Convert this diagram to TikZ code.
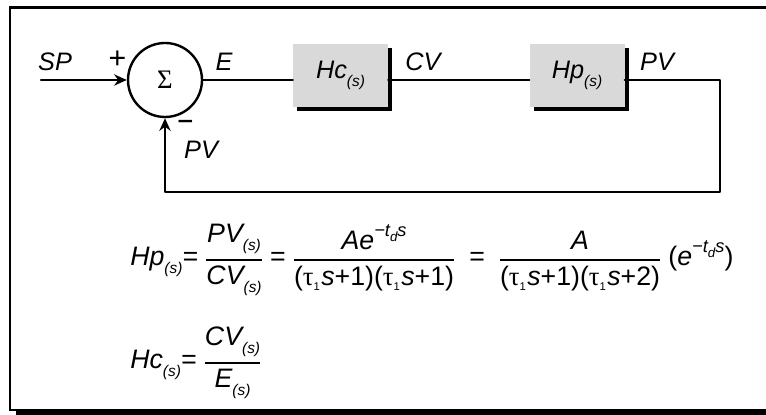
\documentclass[tikz,border=0pt]{standalone}
\usepackage{amsmath}
\usepackage{fontspec}
\setmainfont{Liberation Sans}
\newfontfamily\serifgr{Liberation Serif}
\usetikzlibrary{positioning,shadows,arrows.meta}

% chỉ số (s), tau_1, e^{-t_d s} và phân số
\newcommand{\chiso}{\raisebox{-5.5pt}{\fontsize{11}{11}\selectfont\itshape(s)}}
\newcommand{\tauone}{{\serifgr\upshape τ}\raisebox{-3.5pt}{\fontsize{8}{8}\selectfont 1}\kern1pt}
\newcommand{\mudelay}{\textit{e}\raisebox{9.5pt}{\fontsize{13}{13}\selectfont\itshape −t\raisebox{-3.5pt}{\fontsize{9.5}{9.5}\selectfont d}s}}
\newcommand{\phanso}[2]{\genfrac{}{}{1.3pt}{0}{\mbox{#1}}{\mbox{#2}}}

\begin{document}
\begin{tikzpicture}[
	line join=round,
	line cap=round,
	>={Stealth[length=9pt,width=8pt]},
	font=\fontsize{18}{21}\selectfont,
	blok/.style={fill=black!15, minimum width=2.375cm, minimum height=1.575cm,
		font=\fontsize{18}{21}\selectfont\itshape,
		drop shadow={shadow xshift=0.1cm, shadow yshift=-0.1cm, fill=black, opacity=1}},
	nhan/.style={inner sep=0pt, font=\fontsize{18}{21}\selectfont\itshape},
	noi/.style={line width=1.7pt}
	]
	
	\useasboundingbox (0,0) rectangle (19.15,10.375);
	
	% Khung và bóng
	\fill[black] (0.4,0) rectangle (19.15,0.125);
	\draw[line width=1.5pt, line cap=butt, line join=miter]
		(19.15,10.1875) -- (0.25,10.1875) -- (0.25,0.125) -- (19.15,0.125);
	
	% Bộ cộng và các khối
	\node[circle, draw, noi, minimum size=1.85cm, inner sep=0pt] (tong) at (4.125,8.375)
		{\serifgr\fontsize{19}{19}\selectfont Σ};
	\node[blok] (hc) at (8.5125,8.4875) {Hc\chiso};
	\node[blok] (hp) at (14.425,8.4875) {Hp\chiso};
	
	% Điểm đầu và góc vòng hồi tiếp
	\coordinate (vao) at (1.025,8.375);
	\coordinate (goc) at (18,5.575);
	
	% Đường nối
	\draw[noi, ->] (vao) -- (tong.west);
	\draw[noi] (tong.east) -- (tong.east -| hc.west);
	\draw[noi] (tong.east -| hc.east) -- (tong.east -| hp.west);
	\draw[noi, ->] (tong.east -| hp.east) -| (goc) -| (tong.south);
	
	% Nhãn tín hiệu
	\node[nhan] (sp) at (1.375,8.825) {SP};
	\node[nhan] (cong) at (2.925,8.875) {\scalebox{1.2}{+}};
	\node[nhan] (e) at (5.6,8.825) {E};
	\node[nhan] (cv) at (10.575,8.825) {CV};
	\node[nhan] (pv) at (16.425,8.825) {PV};
	\node[nhan] (tru) at (4.625,7.225) {\scalebox{1.1}[1.3]{−}};
	\node[nhan] (pvb) at (5.025,6.625) {PV};
	
	% Hàm truyền
	\node[anchor=base west, inner sep=0pt, font=\fontsize{19}{22}\selectfont] (pthp) at (3.25,3.725)
		{$\mbox{\itshape Hp\chiso=}\;\phanso{\itshape PV\chiso}{\itshape CV\chiso}\;\mbox{=}\;
		\phanso{\itshape A\mudelay}{(\tauone\textit{s}+1)(\tauone\textit{s}+1)}\;\;\mbox{=}\;\;
		\phanso{\itshape A}{(\tauone\textit{s}+1)(\tauone\textit{s}+2)}\;\mbox{(\mudelay)}$};
	\node[anchor=base west, inner sep=0pt, font=\fontsize{19}{22}\selectfont] (pthc) at (3.25,1.15)
		{$\mbox{\itshape Hc\chiso=}\;\phanso{\itshape CV\chiso}{\itshape E\chiso}$};
	
\end{tikzpicture}
\end{document}
